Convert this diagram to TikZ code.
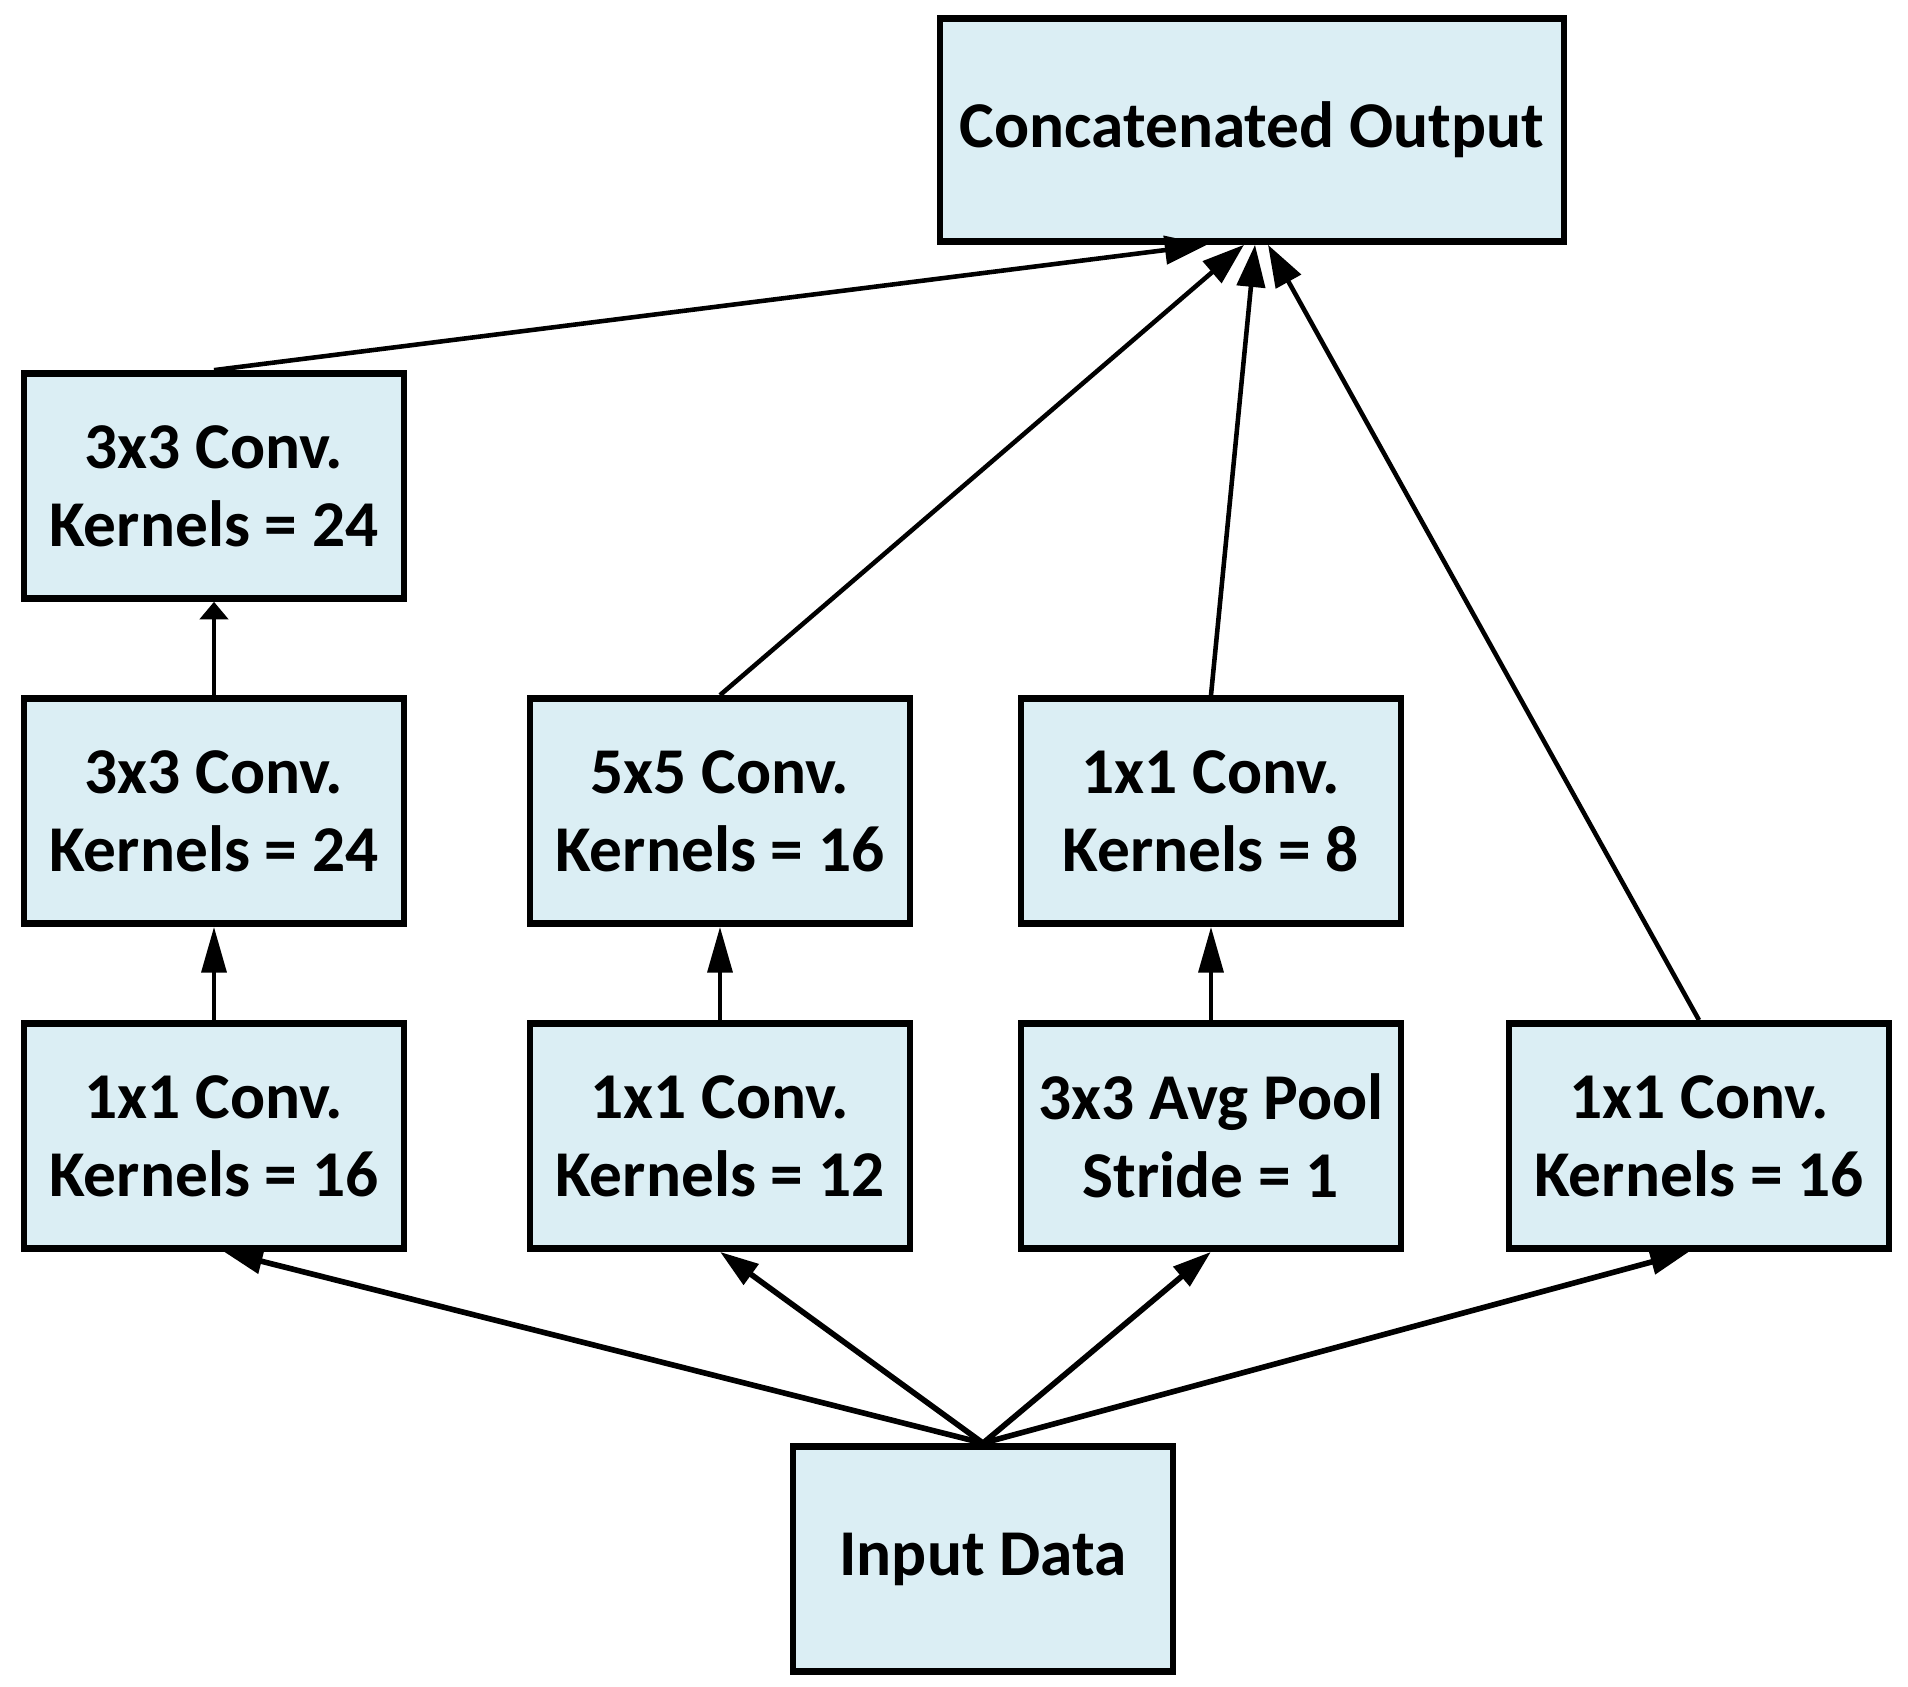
\documentclass[tikz,border=0pt]{standalone}
\usepackage{fontspec}
\setmainfont{Carlito}
\usetikzlibrary{arrows.meta}
\definecolor{boxblue}{RGB}{219,238,244}

\begin{document}
\begin{tikzpicture}[
  blk/.style={draw=black,line width=1.9pt,fill=boxblue,minimum width=3.8cm,minimum height=2.25cm,
    inner sep=0pt,align=center,font=\fontsize{18.6}{22.2}\selectfont\bfseries},
  fan/.style={line width=1.6pt,-{Triangle[length=11pt,width=7pt]}},
  up/.style={line width=1.3pt,-{Triangle[length=13pt,width=7pt]}}]
\useasboundingbox (0,0) rectangle (19.08,16.87);
% output
\node[blk,minimum width=6.24cm,minimum height=2.23cm] (out) at (12.52,15.57) {Concatenated Output};
% column 1
\node[blk] (c3b) at (2.14,12.01) {3x3 Conv.\\Kernels = 24};
\node[blk] (c3a) at (2.14,8.76) {3x3 Conv.\\Kernels = 24};
\node[blk] (r1) at (2.14,5.51) {1x1 Conv.\\Kernels = 16};
% column 2
\node[blk] (c5) at (7.20,8.76) {5x5 Conv.\\Kernels = 16};
\node[blk] (r2) at (7.20,5.51) {1x1 Conv.\\Kernels = 12};
% column 3
\node[blk] (c1p) at (12.11,8.76) {1x1 Conv.\\Kernels = 8};
\node[blk] (pool) at (12.11,5.51) {3x3 Avg Pool\\Stride = 1};
% column 4
\node[blk] (r4) at (16.99,5.51) {1x1 Conv.\\Kernels = 16};
% input
\node[blk] (in) at (9.83,1.28) {Input Data};

\draw[fan] (in.north) -- ([xshift=1mm]r1.south);
\draw[fan] (in.north) -- (r2.south);
\draw[fan] (in.north) -- (pool.south);
\draw[fan] (in.north) -- ([xshift=-1mm]r4.south);

\draw[up] (r1) -- (c3a);
\draw[up] (r2) -- (c5);
\draw[up] (pool) -- (c1p);
\draw[line width=1.3pt,-{Triangle[length=5pt,width=8pt]}] (c3a) -- (c3b);

\draw[up,-{Triangle[length=12pt,width=8pt]}] (c3b.north) -- ([xshift=-4.5mm]out.south);
\draw[up,-{Triangle[length=12pt,width=8pt]}] (c5.north) -- ([xshift=-0.8mm]out.south);
\draw[up,-{Triangle[length=12pt,width=8pt]}] (c1p.north) -- ([xshift=0.3mm]out.south);
\draw[up,-{Triangle[length=12pt,width=8pt]}] (r4.north) -- ([xshift=1.6mm]out.south);
\end{tikzpicture}
\end{document}
